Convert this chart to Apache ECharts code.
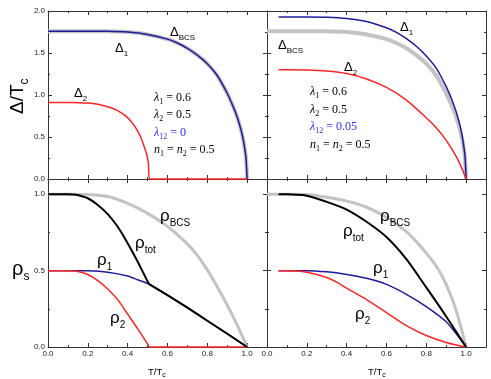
<!DOCTYPE html>
<html>
<head>
<meta charset="utf-8">
<script src="https://cdn.jsdelivr.net/npm/echarts@6/dist/echarts.min.js"></script>
<style>
  html, body { margin: 0; padding: 0; background: #fff; }
  #main { width: 491px; height: 379px; }
</style>
</head>
<body>
<div id="main"></div>
<script>
// ---- top left: gaps, lambda12 = 0 ----
var tGapA = [0, 0.1, 0.2, 0.3, 0.4, 0.5, 0.6, 0.65, 0.7, 0.75, 0.8, 0.85, 0.9, 0.93, 0.95, 0.97, 0.98, 0.99, 0.995, 1.0];
var gapBcsA = [1.76, 1.76, 1.76, 1.758, 1.749, 1.721, 1.665, 1.619, 1.556, 1.475, 1.373, 1.232, 1.021, 0.862, 0.739, 0.581, 0.475, 0.334, 0.238, 0];
var gap1A = [1.76, 1.76, 1.76, 1.758, 1.749, 1.721, 1.665, 1.619, 1.556, 1.475, 1.373, 1.232, 1.021, 0.862, 0.739, 0.581, 0.475, 0.334, 0.238, 0];
var tGap2A = [0, 0.05, 0.1, 0.15, 0.2, 0.25, 0.3, 0.33, 0.36, 0.39, 0.42, 0.45, 0.47, 0.485, 0.495, 0.5, 0.505, 0.51, 1.0];
var gap2A = [0.91, 0.91, 0.91, 0.909, 0.905, 0.89, 0.861, 0.837, 0.80, 0.751, 0.678, 0.573, 0.473, 0.373, 0.30, 0.246, 0.173, 0, 0];

// ---- top right: gaps, lambda12 = 0.05 ----
var tGapBcsB = [0, 0.1, 0.2, 0.3, 0.4, 0.5, 0.6, 0.65, 0.7, 0.75, 0.8, 0.85, 0.9, 0.93, 0.95, 0.97, 0.98, 0.99, 0.995, 1.0];
var gapBcsB = [1.76, 1.76, 1.76, 1.758, 1.749, 1.721, 1.665, 1.619, 1.556, 1.475, 1.373, 1.232, 1.021, 0.862, 0.739, 0.581, 0.475, 0.334, 0.238, 0];
var tGap1B = [0.058, 0.1, 0.2, 0.3, 0.4, 0.5, 0.6, 0.65, 0.7, 0.75, 0.8, 0.85, 0.9, 0.93, 0.95, 0.97, 0.98, 0.99, 0.995, 1.0];
var gap1B = [1.93, 1.93, 1.93, 1.925, 1.91, 1.875, 1.80, 1.745, 1.67, 1.58, 1.465, 1.32, 1.10, 0.935, 0.80, 0.63, 0.515, 0.365, 0.26, 0];
var tGap2B = [0.058, 0.1, 0.2, 0.3, 0.4, 0.5, 0.6, 0.7, 0.8, 0.85, 0.9, 0.95, 0.98, 1.0];
var gap2B = [1.30, 1.30, 1.298, 1.285, 1.255, 1.19, 1.09, 0.94, 0.73, 0.61, 0.46, 0.27, 0.12, 0];

// ---- bottom left: superfluid density, lambda12 = 0 ----
var tRhoBcsA = [0, 0.1, 0.2, 0.3, 0.4, 0.5, 0.6, 0.7, 0.75, 0.8, 0.85, 0.9, 0.95, 1.0];
var rhoBcsA = [1, 1, 0.998, 0.985, 0.94, 0.875, 0.79, 0.675, 0.6, 0.505, 0.395, 0.275, 0.145, 0];
var tRho1A = [0, 0.1, 0.2, 0.3, 0.4, 0.45, 0.51, 0.6, 0.7, 0.8, 0.9, 1.0];
var rho1A = [0.5, 0.5, 0.499, 0.49, 0.465, 0.44, 0.41, 0.34, 0.258, 0.172, 0.087, 0];
var tRho2A = [0, 0.1, 0.15, 0.2, 0.25, 0.3, 0.35, 0.4, 0.45, 0.5, 0.51, 1.0];
var rho2A = [0.5, 0.5, 0.495, 0.475, 0.435, 0.38, 0.31, 0.215, 0.12, 0.02, 0, 0];
var tRhoTotA = [0, 0.1, 0.15, 0.2, 0.25, 0.3, 0.35, 0.4, 0.45, 0.5, 0.51, 0.6, 0.7, 0.8, 0.9, 1.0];
var rhoTotA = [1.0, 1.0, 0.995, 0.974, 0.93, 0.87, 0.787, 0.68, 0.56, 0.43, 0.41, 0.34, 0.258, 0.172, 0.087, 0];

// ---- bottom right: superfluid density, lambda12 = 0.05 ----
var tRhoBcsB = [0, 0.1, 0.2, 0.3, 0.4, 0.5, 0.6, 0.7, 0.75, 0.8, 0.85, 0.9, 0.95, 1.0];
var rhoBcsB = [1, 1, 0.998, 0.98, 0.955, 0.915, 0.85, 0.755, 0.69, 0.615, 0.53, 0.41, 0.24, 0];
var tRhoTotB = [0.058, 0.1, 0.2, 0.3, 0.4, 0.5, 0.6, 0.7, 0.8, 0.9, 1.0];
var rhoTotB = [1.0, 1.0, 0.99, 0.95, 0.9, 0.82, 0.72, 0.575, 0.39, 0.2, 0];
var tRho1B = [0.058, 0.1, 0.2, 0.3, 0.4, 0.5, 0.6, 0.7, 0.8, 0.9, 1.0];
var rho1B = [0.5, 0.5, 0.5, 0.492, 0.475, 0.45, 0.41, 0.345, 0.265, 0.165, 0];
var tRho2B = [0.058, 0.1, 0.15, 0.2, 0.25, 0.3, 0.35, 0.4, 0.5, 0.6, 0.7, 0.8, 0.9, 1.0];
var rho2B = [0.5, 0.5, 0.498, 0.49, 0.475, 0.455, 0.425, 0.385, 0.31, 0.225, 0.14, 0.075, 0.03, 0];

var SANS = 'Liberation Sans', SERIF = 'Liberation Serif';
var GRAY = '#c3c3c3', BLUE = '#1c1c9a', RED = '#ff2424', BLACK = '#000';
var AXIS = '#333';

// panel rectangles: top-left, top-right, bottom-left, bottom-right
var rects = [[48, 11], [267, 11], [48, 179], [267, 179]];
var PW = 219, PH = 168;

var grids = [], xAxes = [], yAxes = [], xMain = [], yMain = [];
function fmt(v) { return v.toFixed(1); }

function mkAxis(gi, pos, max, step, len, showLine, labels, showMax) {
    return {
        type: 'value', gridIndex: gi, position: pos, min: 0, max: max, interval: step,
        axisLine: { show: showLine, onZero: false, lineStyle: { color: AXIS, width: 1 } },
        axisTick: { show: true, inside: true, length: len, lineStyle: { color: AXIS, width: 1 } },
        axisLabel: { show: labels, formatter: fmt, showMaxLabel: !!showMax, margin: 3,
            fontSize: 8, fontFamily: SANS, color: '#222' },
        splitLine: { show: false }
    };
}

// major ticks (with frame) and minor ticks, each on its own overlaid grid
for (var g = 0; g < 4; g++) {
    var ymax = g < 2 ? 2.0 : 1.1;
    grids.push({ left: rects[g][0], top: rects[g][1], width: PW, height: PH, containLabel: false });
    xMain[g] = xAxes.length;
    xAxes.push(mkAxis(g, 'bottom', 1.1, 0.2, 4, true, g >= 2, false));
    xAxes.push(mkAxis(g, 'top', 1.1, 0.2, 4, true, false, false));
    yMain[g] = yAxes.length;
    yAxes.push(mkAxis(g, 'left', ymax, 0.5, 4, true, g % 2 === 0, g < 2));
    yAxes.push(mkAxis(g, 'right', ymax, 0.5, 4, true, false, false));
}
for (var g = 0; g < 4; g++) {
    var ymax = g < 2 ? 2.0 : 1.1;
    var gi = grids.length;
    grids.push({ left: rects[g][0], top: rects[g][1], width: PW, height: PH, containLabel: false });
    xAxes.push(mkAxis(gi, 'bottom', 1.1, 0.1, 2, false, false));
    xAxes.push(mkAxis(gi, 'top', 1.1, 0.1, 2, false, false));
    yAxes.push(mkAxis(gi, 'left', ymax, 0.25, 2, false, false));
    yAxes.push(mkAxis(gi, 'right', ymax, 0.25, 2, false, false));
}

function curve(g, xs, ys, color, width, z, smooth) {
    return {
        type: 'line', xAxisIndex: xMain[g], yAxisIndex: yMain[g],
        data: xs.map(function (x, i) { return [x, ys[i]]; }),
        symbol: 'none', smooth: smooth === undefined ? 0.25 : smooth,
        clip: false, z: z, silent: true,
        lineStyle: { color: color, width: width }
    };
}

var series = [
    curve(0, tGapA, gapBcsA, GRAY, 4, 2),
    curve(0, tGapA, gap1A, BLUE, 1.5, 3),
    curve(0, tGap2A, gap2A, RED, 1.5, 4, 0.15),
    curve(1, tGapBcsB, gapBcsB, GRAY, 4, 2),
    curve(1, tGap1B, gap1B, BLUE, 1.5, 3),
    curve(1, tGap2B, gap2B, RED, 1.5, 4),
    curve(2, tRhoBcsA, rhoBcsA, GRAY, 3, 2),
    curve(2, tRho1A, rho1A, BLUE, 1.5, 3),
    curve(2, tRho2A, rho2A, RED, 1.5, 4),
    curve(2, tRhoTotA, rhoTotA, BLACK, 2, 5, 0.1),
    curve(3, tRhoBcsB, rhoBcsB, GRAY, 3, 2),
    curve(3, tRho1B, rho1B, BLUE, 1.5, 3),
    curve(3, tRho2B, rho2B, RED, 1.5, 4),
    curve(3, tRhoTotB, rhoTotB, BLACK, 2, 5)
];

// text runs with subscripts, measured on a canvas
var ctx = document.createElement('canvas').getContext('2d');
function run(x, base, parts, color) {
    var out = [], cx = x;
    parts.forEach(function (p) {
        var font = (p.it ? 'italic ' : '') + p.size + 'px "' + (p.fam || SANS) + '"';
        ctx.font = font;
        var w = ctx.measureText(p.t).width;
        out.push({
            type: 'text', x: cx, y: base + (p.dy || 0) - 0.32 * p.size, z: 100, silent: true,
            style: { text: p.t, font: font, fill: color || '#000', align: 'left', verticalAlign: 'middle' }
        });
        cx += w;
    });
    return out;
}
function delta(x, base, sub) {
    return run(x, base, [{ t: 'Δ', size: 13 }, { t: sub, size: 8, dy: 3 }]);
}
function rho(x, base, sub) {
    return run(x, base, [{ t: 'ρ', size: 17 }, { t: sub, size: 10, dy: 4 }]);
}
function params(x, base, l12, color) {
    var r = [];
    r = r.concat(run(x, base, [{ t: 'λ', size: 12, fam: SERIF, it: true }, { t: '1', size: 8, fam: SERIF, dy: 2.5 }, { t: ' = 0.6', size: 12, fam: SERIF }]));
    r = r.concat(run(x, base + 17.5, [{ t: 'λ', size: 12, fam: SERIF, it: true }, { t: '2', size: 8, fam: SERIF, dy: 2.5 }, { t: ' = 0.5', size: 12, fam: SERIF }]));
    r = r.concat(run(x, base + 35, [{ t: 'λ', size: 12, fam: SERIF, it: true }, { t: '12', size: 8, fam: SERIF, dy: 2.5 }, { t: ' = ' + l12, size: 12, fam: SERIF }], color));
    r = r.concat(run(x, base + 52.5, [{ t: 'n', size: 12, fam: SERIF, it: true }, { t: '1', size: 8, fam: SERIF, dy: 2.5 }, { t: ' = ', size: 12, fam: SERIF },
        { t: 'n', size: 12, fam: SERIF, it: true }, { t: '2', size: 8, fam: SERIF, dy: 2.5 }, { t: ' = 0.5', size: 12, fam: SERIF }]));
    return r;
}

var texts = [];
texts = texts.concat(delta(170, 37, 'BCS'), delta(115, 53, '1'), delta(74, 98, '2'));
texts = texts.concat(params(154, 101.5, '0', '#3030ff'));
texts = texts.concat(delta(400, 32, '1'), delta(278, 50, 'BCS'), delta(344, 72, '2'));
texts = texts.concat(params(310, 96, '0.05', '#3030ff'));
texts = texts.concat(rho(160, 222, 'BCS'), rho(135, 249, 'tot'), rho(97, 266, '1'), rho(110, 324, '2'));
texts = texts.concat(rho(380, 222, 'BCS'), rho(343, 237, 'tot'), rho(373, 274, '1'), rho(355, 320, '2'));
texts = texts.concat(run(12, 276, [{ t: 'ρ', size: 20 }, { t: 's', size: 12, dy: 5 }]));
texts = texts.concat(run(148, 375, [{ t: 'T/T', size: 9.5 }, { t: 'c', size: 7, dy: 2 }]));
texts = texts.concat(run(368, 375, [{ t: 'T/T', size: 9.5 }, { t: 'c', size: 7, dy: 2 }]));
// rotated y-axis name of the gap panels
texts.push({
    type: 'group', x: 18, y: 114, rotation: Math.PI / 2, z: 100,
    children: run(0, 0.32 * 19, [{ t: 'Δ/T', size: 19 }, { t: 'c', size: 12, dy: 4 }])
});

var chart = echarts.init(document.getElementById('main'), null, { renderer: 'canvas' });
chart.setOption({
    animation: false,
    backgroundColor: '#fff',
    grid: grids,
    xAxis: xAxes,
    yAxis: yAxes,
    series: series,
    graphic: texts
});
</script>
</body>
</html>
